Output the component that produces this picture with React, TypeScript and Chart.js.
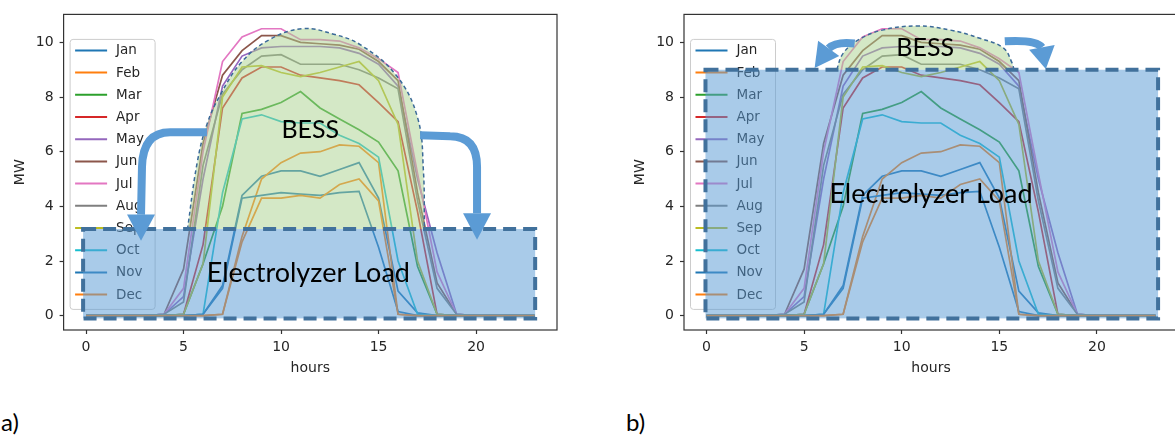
import React, { useEffect, useRef } from "react";
import { Chart, registerables } from "chart.js";

Chart.register(...registerables);

// ---------------- DATA ----------------
const HOURS = [0, 1, 2, 3, 4, 5, 6, 7, 8, 9, 10, 11, 12, 13, 14, 15, 16, 17, 18, 19, 20, 21, 22, 23];
const MONTHS = ["Jan", "Feb", "Mar", "Apr", "May", "Jun", "Jul", "Aug", "Sep", "Oct", "Nov", "Dec"];

const JAN = [0, 0, 0, 0, 0, 0, 0.05, 1.1, 4.4, 5.1, 5.3, 5.3, 5.1, 5.35, 5.6, 4.3, 0.9, 0.1, 0, 0, 0, 0, 0, 0];
const FEB = [0, 0, 0, 0, 0, 0, 0, 0.05, 2.9, 5.0, 5.6, 5.95, 6.0, 6.25, 6.2, 5.6, 0.05, 0, 0, 0, 0, 0, 0, 0];
const MAR = [0, 0, 0, 0, 0, 0.05, 1.9, 4.0, 7.4, 7.55, 7.8, 8.2, 7.6, 7.2, 6.8, 6.35, 5.3, 1.8, 0.05, 0, 0, 0, 0, 0];
const APR = [0, 0, 0, 0, 0, 0.05, 2.6, 7.6, 8.7, 9.1, 9.1, 8.8, 8.7, 8.6, 8.45, 7.8, 7.1, 3.8, 0.05, 0, 0, 0, 0, 0];
const MAY = [0, 0, 0, 0, 0.05, 0.7, 5.0, 8.4, 9.5, 9.8, 9.85, 9.85, 9.85, 9.8, 9.6, 9.2, 8.4, 5.0, 2.3, 0.05, 0, 0, 0, 0];
const JUN = [0, 0, 0, 0, 0.05, 1.7, 6.3, 8.8, 9.7, 10.25, 10.25, 10.0, 9.95, 9.9, 9.75, 9.3, 8.6, 4.5, 1.2, 0.05, 0, 0, 0, 0];
const JUL = [0, 0, 0, 0, 0.05, 1.0, 6.0, 9.3, 10.2, 10.5, 10.5, 10.1, 10.1, 10.05, 9.8, 9.4, 8.9, 5.2, 1.6, 0.05, 0, 0, 0, 0];
const AUG = [0, 0, 0, 0, 0.05, 0.5, 5.5, 8.1, 9.0, 9.5, 9.55, 9.2, 9.2, 9.2, 9.0, 8.7, 8.3, 4.2, 1.0, 0.05, 0, 0, 0, 0];
const SEP = [0, 0, 0, 0, 0, 0.05, 1.9, 8.0, 9.1, 9.15, 8.9, 8.75, 8.9, 9.1, 9.3, 8.6, 7.0, 2.0, 0.05, 0, 0, 0, 0, 0];
const OCT = [0, 0, 0, 0, 0, 0, 0.05, 4.5, 7.2, 7.35, 7.1, 7.05, 7.05, 6.6, 6.3, 5.8, 2.0, 0.05, 0, 0, 0, 0, 0, 0];
const NOV = [0, 0, 0, 0, 0, 0, 0.05, 1.0, 4.3, 4.4, 4.5, 4.45, 4.4, 4.5, 4.55, 2.5, 0.15, 0, 0, 0, 0, 0, 0, 0];
const DEC = [0, 0, 0, 0, 0, 0, 0, 0.05, 2.7, 4.3, 4.3, 4.4, 4.3, 4.8, 5.0, 4.2, 0.05, 0, 0, 0, 0, 0, 0, 0];
const SERIES = [JAN, FEB, MAR, APR, MAY, JUN, JUL, AUG, SEP, OCT, NOV, DEC];

// BESS envelope outlines (hours, MW)
const ENV_A_X = [5.2, 5.7, 6.2, 6.9, 8.0, 9.4, 11.1, 12.7, 14.1, 15.9, 17.0, 17.3, 17.35];
const ENV_A_Y = [3.15, 5.6, 7.0, 8.1, 9.3, 10.1, 10.5, 10.3, 9.9, 8.8, 7.25, 5.3, 3.15];
const ENV_B_X = [6.67, 7.0, 7.8, 9.0, 10.8, 12.5, 14.0, 15.2, 15.65, 15.75];
const ENV_B_Y = [9.0, 9.6, 10.1, 10.45, 10.6, 10.45, 10.15, 9.8, 9.25, 9.0];

// Electrolyzer load levels (MW)
const LOAD_A = 3.17;
const LOAD_B = 9.0;

const TAB10 = ["#1f77b4", "#ff7f0e", "#2ca02c", "#d62728", "#9467bd", "#8c564b", "#e377c2", "#7f7f7f", "#bcbd22", "#17becf", "#1f77b4", "#ff7f0e"];

// ---------------- PANEL LAYOUT ----------------
const PANEL_A = {
  left: 0,
  width: 600,
  height: 390,
  yAxisW: 63.6,
  padRight: 43,
  load: LOAD_A,
  rect: { x0: -0.15, x1: 23.03, y0: -0.1 },
  envX: ENV_A_X,
  envY: ENV_A_Y,
  arrows: [
    { path: [["M", 6.2, 6.71], ["L", 4.31, 6.71], ["Q", 2.92, 6.71, 2.87, 5.45], ["L", 2.82, 3.7]], tip: [2.82, 2.74], headW: 28 },
    { path: [["M", 17.13, 6.6], ["L", 18.67, 6.57], ["Q", 20.05, 6.57, 20.05, 5.45], ["L", 20.05, 3.75]], tip: [20.05, 2.78], headW: 28 },
  ],
  bess: [11.5, 6.8],
  loadText: [11.4, 1.55],
};
const PANEL_B = {
  left: 620,
  width: 570,
  height: 390,
  yAxisW: 64,
  padRight: 12,
  load: LOAD_B,
  rect: { x0: -0.05, x1: 23.13, y0: -0.1 },
  envX: ENV_B_X,
  envY: ENV_B_Y,
  arrows: [
    { path: [["M", 7.59, 9.96], ["Q", 6.62, 10.04, 6.26, 9.78]], tip: [5.54, 9.06], headW: 26 },
    { path: [["M", 15.28, 10.04], ["Q", 16.87, 10.11, 17.18, 9.82]], tip: [17.38, 9.03], headW: 26 },
  ],
  bess: [11.2, 9.8],
  loadText: [11.5, 4.45],
};

const AXIS_COLOR = "#333";
const ARROW_COLOR = "#5b9bd5";
const RECT_FILL = "rgba(91,155,213,0.52)";
const RECT_EDGE = "#41719c";
const TICK_FONT = { family: "DejaVu Sans", size: 14 };

function makeOverlayPlugin(panel: any) {
  return {
    id: "overlay",
    afterDatasetsDraw(chart: any) {
      const ctx = chart.ctx;
      const xs = chart.scales.x;
      const ys = chart.scales.y;
      const ca = chart.chartArea;
      const P = (x: number, y: number) => [xs.getPixelForValue(x), ys.getPixelForValue(y)];

      // legend
      ctx.save();
      const lx = ca.left + 6.5;
      const ly = ca.top + 25;
      const lw = 85;
      const lh = 270;
      ctx.fillStyle = "rgba(255,255,255,0.8)";
      ctx.strokeStyle = "#cccccc";
      ctx.lineWidth = 1;
      ctx.beginPath();
      (ctx as any).roundRect ? ctx.roundRect(lx, ly, lw, lh, 3) : ctx.rect(lx, ly, lw, lh);
      ctx.fill();
      ctx.stroke();
      ctx.font = "13.5px 'DejaVu Sans'";
      ctx.textBaseline = "middle";
      ctx.textAlign = "left";
      MONTHS.forEach((m, i) => {
        const yy = ly + 11 + i * 22.2;
        ctx.strokeStyle = TAB10[i];
        ctx.lineWidth = 2;
        ctx.beginPath();
        ctx.moveTo(lx + 5, yy);
        ctx.lineTo(lx + 37, yy);
        ctx.stroke();
        ctx.fillStyle = "#262626";
        ctx.fillText(m, lx + 46, yy + 0.5);
      });
      ctx.restore();

      // electrolyzer rectangle
      ctx.save();
      const r0 = P(panel.rect.x0, panel.load);
      const r1 = P(panel.rect.x1, panel.rect.y0);
      ctx.fillStyle = RECT_FILL;
      ctx.fillRect(r0[0], r0[1], r1[0] - r0[0], r1[1] - r0[1]);
      ctx.strokeStyle = RECT_EDGE;
      ctx.lineWidth = 4;
      ctx.setLineDash([13, 7]);
      ctx.strokeRect(r0[0], r0[1], r1[0] - r0[0], r1[1] - r0[1]);
      ctx.restore();

      // arrows
      for (const a of panel.arrows) {
        ctx.save();
        ctx.strokeStyle = ARROW_COLOR;
        ctx.fillStyle = ARROW_COLOR;
        ctx.lineWidth = 8;
        ctx.lineJoin = "round";
        ctx.beginPath();
        let last: number[] = [0, 0];
        for (const s of a.path) {
          if (s[0] === "M") {
            const p = P(s[1], s[2]);
            ctx.moveTo(p[0], p[1]);
            last = p;
          } else if (s[0] === "L") {
            const p = P(s[1], s[2]);
            ctx.lineTo(p[0], p[1]);
            last = p;
          } else {
            const c = P(s[1], s[2]);
            const p = P(s[3], s[4]);
            ctx.quadraticCurveTo(c[0], c[1], p[0], p[1]);
            last = p;
          }
        }
        ctx.stroke();
        const tip = P(a.tip[0], a.tip[1]);
        const dx = tip[0] - last[0];
        const dy = tip[1] - last[1];
        const len = Math.hypot(dx, dy) || 1;
        const nx = -dy / len;
        const ny = dx / len;
        const hw = a.headW / 2;
        ctx.beginPath();
        ctx.moveTo(tip[0], tip[1]);
        ctx.lineTo(last[0] + nx * hw, last[1] + ny * hw);
        ctx.lineTo(last[0] - nx * hw, last[1] - ny * hw);
        ctx.closePath();
        ctx.fill();
        ctx.restore();
      }

      // labels
      ctx.save();
      ctx.fillStyle = "#000";
      ctx.textAlign = "center";
      ctx.textBaseline = "middle";
      ctx.font = "25px Lato";
      const b = P(panel.bess[0], panel.bess[1]);
      ctx.fillText("BESS", b[0], b[1]);
      ctx.font = "27px Lato";
      const e = P(panel.loadText[0], panel.loadText[1]);
      ctx.fillText("Electrolyzer Load", e[0], e[1]);
      ctx.restore();

      // frame
      ctx.save();
      ctx.strokeStyle = AXIS_COLOR;
      ctx.lineWidth = 1.2;
      ctx.strokeRect(ca.left, ca.top, ca.right - ca.left, ca.bottom - ca.top);
      // axis titles
      ctx.fillStyle = "#262626";
      ctx.font = "14px 'DejaVu Sans'";
      ctx.textAlign = "center";
      ctx.textBaseline = "middle";
      ctx.fillText("hours", (ca.left + ca.right) / 2, 368);
      ctx.translate(20, (ca.top + ca.bottom) / 2);
      ctx.rotate(-Math.PI / 2);
      ctx.fillText("MW", 0, 0);
      ctx.restore();
    },
  };
}

function Panel({ panel }: { panel: any }) {
  const ref = useRef<HTMLCanvasElement | null>(null);
  useEffect(() => {
    if (!ref.current) return;
    const datasets: any[] = SERIES.map((vals, i) => ({
      label: MONTHS[i],
      data: HOURS.map((h, j) => ({ x: h, y: vals[j] })),
      borderColor: TAB10[i],
      borderWidth: 1.7,
      pointRadius: 0,
      tension: 0,
      fill: false,
      order: 12 - i,
    }));
    datasets.push({
      label: "BESS",
      data: panel.envX.map((x: number, j: number) => ({ x, y: panel.envY[j] })),
      borderColor: "#3b6a99",
      borderWidth: 1.5,
      borderDash: [4, 3],
      backgroundColor: "rgba(169,209,142,0.5)",
      fill: { value: panel.load },
      tension: 0.4,
      pointRadius: 0,
      order: 0,
    });
    const chart = new Chart(ref.current, {
      type: "line",
      data: { datasets },
      options: {
        animation: false,
        responsive: false,
        maintainAspectRatio: false,
        devicePixelRatio: 1,
        layout: { padding: { left: 0, top: 10, right: panel.padRight, bottom: 0 } },
        plugins: { legend: { display: false }, tooltip: { enabled: false } },
        scales: {
          x: {
            type: "linear",
            min: -1.15,
            max: 24.15,
            afterFit: (s: any) => {
              s.height = 60;
            },
            border: { display: false },
            grid: { display: true, drawOnChartArea: false, drawTicks: true, tickLength: 4, tickColor: AXIS_COLOR, tickWidth: 1.2 },
            ticks: { stepSize: 5, includeBounds: false, font: TICK_FONT, color: "#262626", padding: 5, maxRotation: 0 },
          },
          y: {
            type: "linear",
            min: -0.525,
            max: 11.025,
            afterFit: (s: any) => {
              s.width = panel.yAxisW;
            },
            border: { display: false },
            grid: { display: true, drawOnChartArea: false, drawTicks: true, tickLength: 4, tickColor: AXIS_COLOR, tickWidth: 1.2 },
            ticks: { stepSize: 2, includeBounds: false, font: TICK_FONT, color: "#262626", padding: 6 },
          },
        },
      } as any,
      plugins: [makeOverlayPlugin(panel)],
    });
    return () => chart.destroy();
  }, [panel]);
  return (
    <canvas
      ref={ref}
      width={panel.width}
      height={panel.height}
      style={{ position: "absolute", left: panel.left, top: 0, width: panel.width, height: panel.height }}
    />
  );
}

export default function App() {
  return (
    <div style={{ position: "absolute", left: 0, top: 0, width: 1175, height: 442, overflow: "hidden", background: "#fff" }}>
      <Panel panel={PANEL_A} />
      <Panel panel={PANEL_B} />
      <div style={{ position: "absolute", left: 1, top: 407, font: "24px Lato", color: "#000" }}>a)</div>
      <div style={{ position: "absolute", left: 626, top: 407, font: "24px Lato", color: "#000" }}>b)</div>
    </div>
  );
}
